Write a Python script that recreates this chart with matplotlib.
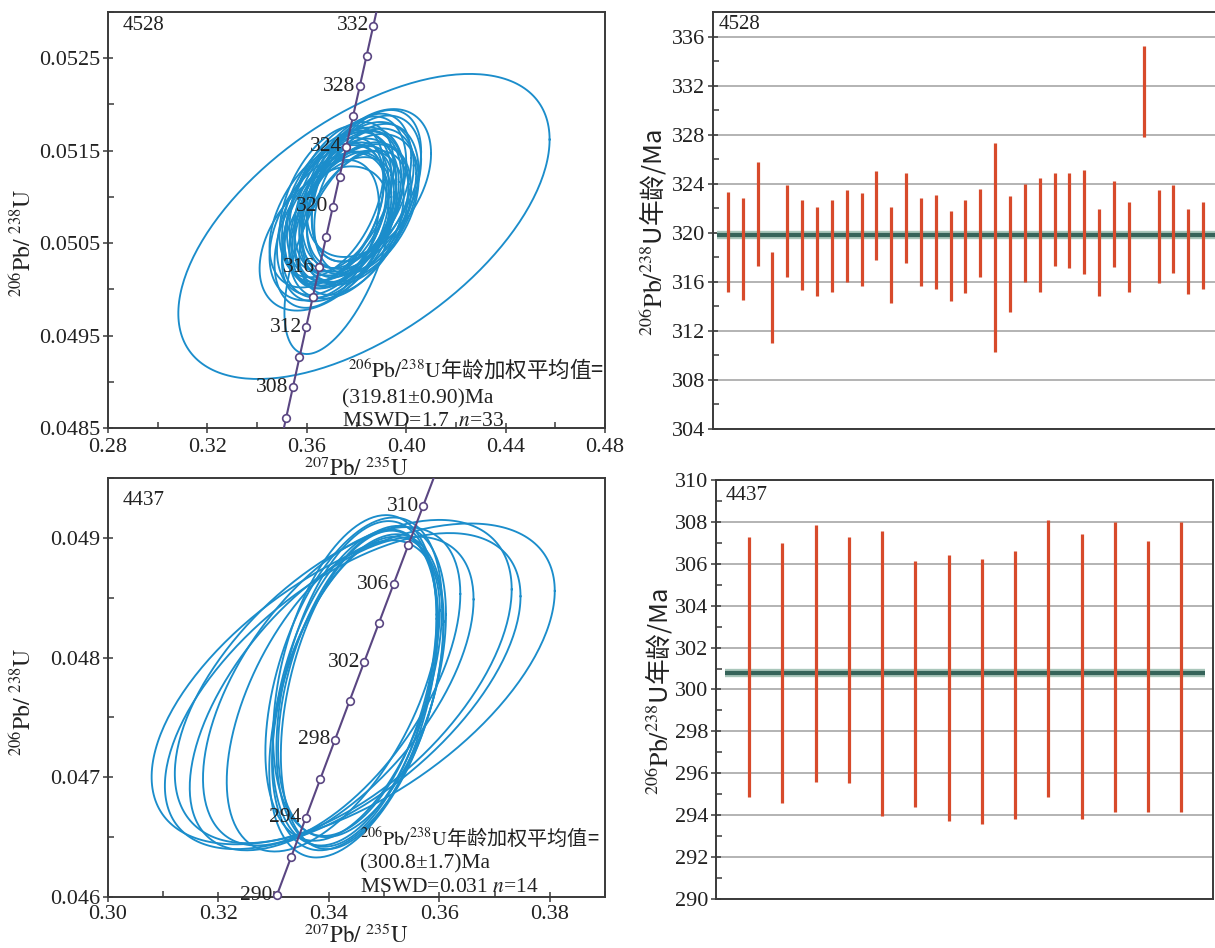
import numpy as np
import matplotlib
matplotlib.use("Agg")
import matplotlib.pyplot as plt
from matplotlib.ticker import FixedLocator, FormatStrFormatter

plt.rcParams['mathtext.fontset'] = 'stix'
plt.rcParams['font.family'] = ['Liberation Serif', 'Noto Sans CJK SC']
SERIF = ['Liberation Serif', 'Noto Sans CJK SC']
CJK = ['Noto Sans CJK SC', 'DejaVu Sans']

# ---------------- data ----------------
L238 = 1.55125e-4   # per Ma
L235 = 9.8485e-4    # per Ma

# sample 4528 concordia
s1_curve_range = [304.0, 334.0]
s1_marker_ages = [306, 308, 310, 312, 314, 316, 318, 320, 322, 324, 326, 328, 330, 332]
s1_label_ages = [308, 312, 316, 320, 324, 328, 332]
s1_cx = [0.383, 0.373, 0.367, 0.385, 0.384, 0.368, 0.372, 0.380, 0.376, 0.374, 0.378, 0.370,
         0.382, 0.373, 0.379, 0.371, 0.377, 0.383, 0.369, 0.375, 0.381, 0.374, 0.378, 0.368,
         0.384, 0.372, 0.379, 0.376, 0.370, 0.382, 0.375, 0.380, 0.373]
s1_cy = [0.05068, 0.05040, 0.05055, 0.05115, 0.05112, 0.05060, 0.05070, 0.05100, 0.05085, 0.05090,
         0.05080, 0.05075, 0.05095, 0.05065, 0.05105, 0.05085, 0.05095, 0.05105, 0.05068, 0.05078,
         0.05088, 0.05100, 0.05092, 0.05080, 0.05098, 0.05090, 0.05072, 0.05070, 0.05095, 0.05110,
         0.05088, 0.05082, 0.05080]
s1_ex = [0.0747, 0.0220, 0.0260, 0.0250, 0.0220, 0.0210, 0.0220, 0.0230, 0.0210, 0.0220,
         0.0230, 0.0220, 0.0220, 0.0230, 0.0210, 0.0200, 0.0220, 0.0230, 0.0240, 0.0210,
         0.0240, 0.0210, 0.0200, 0.0230, 0.0210, 0.0220, 0.0220, 0.0230, 0.0210, 0.0200,
         0.0240, 0.0220, 0.0200]
s1_ey = [0.00165, 0.00110, 0.00078, 0.00080, 0.00082, 0.00080, 0.00079, 0.00081, 0.00078, 0.00080,
         0.00077, 0.00081, 0.00079, 0.00078, 0.00082, 0.00079, 0.00080, 0.00083, 0.00080, 0.00077,
         0.00080, 0.00081, 0.00079, 0.00078, 0.00081, 0.00082, 0.00078, 0.00080, 0.00082, 0.00080,
         0.00084, 0.00077, 0.00079]
s1_rho = [0.57, 0.59, 0.42, 0.40, 0.45, 0.40, 0.38, 0.42, 0.40, 0.36,
          0.44, 0.40, 0.38, 0.45, 0.40, 0.42, 0.37, 0.43, 0.41, 0.46,
          0.39, 0.42, 0.38, 0.44, 0.37, 0.41, 0.45, 0.40, 0.43, 0.40,
          0.42, 0.36, 0.44]
s1_mean_lines = [r"$^{206}\mathrm{Pb}/^{238}\mathrm{U}$年龄加权平均值=",
                 "(319.81±0.90)Ma",
                 r"MSWD=1.7  $n$=33"]

# sample 4437 concordia
s2_curve_range = [289.0, 312.5]
s2_marker_ages = [290, 292, 294, 296, 298, 300, 302, 304, 306, 308, 310]
s2_label_ages = [290, 294, 298, 302, 306, 310]
s2_cx = [0.3444, 0.3425, 0.3426, 0.3405, 0.3405, 0.3408, 0.3445,
         0.3448, 0.3450, 0.3452, 0.3447, 0.3455, 0.3460, 0.3450]
s2_cy = [0.04778, 0.04772, 0.04780, 0.04770, 0.04776, 0.04768, 0.04782,
         0.04775, 0.04778, 0.04770, 0.04785, 0.04773, 0.04780, 0.04768]
s2_ex = [0.0365, 0.0322, 0.0305, 0.0257, 0.0233, 0.0193, 0.0160,
         0.0150, 0.0145, 0.0155, 0.0148, 0.0142, 0.0152, 0.0158]
s2_ey = [0.00134, 0.00132, 0.00135, 0.00131, 0.00133, 0.00130, 0.00135,
         0.00132, 0.00136, 0.00131, 0.00134, 0.00133, 0.00130, 0.00135]
s2_rho = [0.58, 0.60, 0.57, 0.60, 0.58, 0.55, 0.45,
          0.42, 0.40, 0.44, 0.38, 0.41, 0.43, 0.46]
s2_mean_lines = [r"$^{206}\mathrm{Pb}/^{238}\mathrm{U}$年龄加权平均值=",
                 "(300.8±1.7)Ma",
                 r"MSWD=0.031 $n$=14"]

# weighted mean plots
w1_hi = [323.3, 322.8, 325.75, 318.45, 323.9, 322.7, 322.1, 322.7, 323.5, 323.25, 325.0,
         322.1, 324.9, 322.8, 323.1, 321.8, 322.65, 323.6, 327.3, 323.0, 324.0, 324.45,
         324.9, 324.9, 325.1, 321.95, 324.2, 322.5, 335.25, 323.5, 323.9, 321.95, 322.5]
w1_lo = [315.2, 314.5, 317.3, 311.05, 316.4, 315.3, 314.85, 315.2, 316.0, 315.7, 317.75,
         314.25, 317.5, 315.7, 315.4, 314.4, 315.1, 316.4, 310.25, 313.5, 316.0, 315.2,
         317.3, 317.1, 316.6, 314.85, 317.2, 315.2, 327.8, 315.9, 316.7, 315.0, 315.4]
w1_mean = 319.81
w2_hi = [307.3, 307.0, 307.87, 307.3, 307.55, 306.13, 306.4, 306.23, 306.63, 308.1,
         307.4, 308.0, 307.1, 308.0]
w2_lo = [294.85, 294.6, 295.6, 295.55, 293.98, 294.38, 293.7, 293.6, 293.8, 294.85,
         293.8, 294.14, 294.14, 294.14]
w2_mean = 300.8

# ticks
s1_xticks = [0.28, 0.32, 0.36, 0.40, 0.44, 0.48]
s1_xminor = [0.30, 0.34, 0.38, 0.42, 0.46]
s1_yticks = [0.0485, 0.0495, 0.0505, 0.0515, 0.0525]
s1_yminor = [0.0490, 0.0500, 0.0510, 0.0520, 0.0530]
s2_xticks = [0.30, 0.32, 0.34, 0.36, 0.38]
s2_xminor = [0.31, 0.33, 0.35, 0.37, 0.39]
s2_yticks = [0.046, 0.047, 0.048, 0.049]
s2_yminor = [0.0465, 0.0475, 0.0485, 0.0495]
w1_yticks = [304, 308, 312, 316, 320, 324, 328, 332, 336]
w1_yminor = [306, 310, 314, 318, 322, 326, 330, 334]
w2_yticks = [290, 292, 294, 296, 298, 300, 302, 304, 306, 308, 310]
w2_yminor = [291, 293, 295, 297, 299, 301, 303, 305, 307, 309]

# ---------------- styles ----------------
ELL_C = '#1b8dcb'
CONC_C = '#5a4682'
BAR_C = '#d74a2b'
SPINE_C = '#3a3a3a'
GRID_C = '#b3b3b3'
TXT_C = '#222222'


def concordia(t):
    t = np.asarray(t, dtype=float)
    return np.exp(L235 * t) - 1, np.exp(L238 * t) - 1


def ellipse_pts(cx, cy, ex, ey, rho, n=240):
    th = np.linspace(0, 2 * np.pi, n)
    x = cx + ex * np.cos(th)
    y = cy + ey * (rho * np.cos(th) + np.sqrt(1 - rho ** 2) * np.sin(th))
    return x, y


def style_axes(ax):
    for s in ax.spines.values():
        s.set_color(SPINE_C)
        s.set_linewidth(1.4)
    ax.tick_params(which='major', direction='inout', length=7, width=1.1,
                   color=SPINE_C, labelsize=16, pad=2, labelcolor=TXT_C,
                   labelfontfamily='Liberation Serif')
    ax.tick_params(which='minor', direction='in', length=4, width=1.1, color=SPINE_C)


def concordia_panel(ax, rng, marks, labs, cx, cy, ex, ey, rho, xlim, ylim,
                    xt, xm, yt, ym, xfmt, yfmt, name, name_y, lines, txt_x, txt_y,
                    txt_size, ylab_y, xpad):
    for i in range(len(cx)):
        x, y = ellipse_pts(cx[i], cy[i], ex[i], ey[i], rho[i])
        ax.plot(x, y, color=ELL_C, lw=1.35, zorder=2)
    tt = np.linspace(rng[0], rng[1], 300)
    x, y = concordia(tt)
    ax.plot(x, y, color=CONC_C, lw=1.5, zorder=3)
    mx, my = concordia(marks)
    ax.plot(mx, my, 'o', ms=5.5, mfc='white', mec=CONC_C, mew=1.2, zorder=4, clip_on=False)
    lx, ly = concordia(labs)
    for a, px, py in zip(labs, lx, ly):
        ax.annotate(str(a), (px, py), xytext=(-3, 0), textcoords='offset points',
                    ha='right', va='center', fontsize=15.5, family=SERIF,
                    color=TXT_C, zorder=5)
    ax.set_xlim(*xlim)
    ax.set_ylim(*ylim)
    ax.xaxis.set_major_locator(FixedLocator(xt))
    ax.xaxis.set_minor_locator(FixedLocator(xm))
    ax.yaxis.set_major_locator(FixedLocator(yt))
    ax.yaxis.set_minor_locator(FixedLocator(ym))
    ax.xaxis.set_major_formatter(FormatStrFormatter(xfmt))
    ax.yaxis.set_major_formatter(FormatStrFormatter(yfmt))
    style_axes(ax)
    ax.tick_params(axis='x', which='major', pad=xpad)
    ax.set_xlabel(r"$^{207}\mathrm{Pb}/\ ^{235}\mathrm{U}$", fontsize=16.5, labelpad=0,
                  color=TXT_C)
    ax.set_ylabel(r"$^{206}\mathrm{Pb}/\ ^{238}\mathrm{U}$", fontsize=17, color=TXT_C)
    ax.yaxis.set_label_coords(-0.145, ylab_y)
    ax.text(0.03, name_y, name, transform=ax.transAxes, ha='left', va='top',
            fontsize=15, family=SERIF, color=TXT_C)
    fams = [CJK, SERIF, SERIF]
    for k, (s, fy) in enumerate(zip(lines, txt_y)):
        ax.text(txt_x[k], fy, s, transform=ax.transAxes, ha='left', va='baseline',
                fontsize=txt_size[k], family=fams[k], color=TXT_C, zorder=6)


def mean_panel(ax, lo, hi, mean, xlim, ylim, yt, ym, name, mean_span, name_pos):
    xs = np.arange(1, len(lo) + 1)
    ax.set_xlim(*xlim)
    ax.set_ylim(*ylim)
    ax.yaxis.set_major_locator(FixedLocator(yt))
    ax.yaxis.set_minor_locator(FixedLocator(ym))
    ax.set_xticks([])
    ax.grid(axis='y', which='major', color=GRID_C, lw=1.4, zorder=0)
    ax.set_axisbelow(True)
    ax.hlines(mean, mean_span[0], mean_span[1], color='#a9c6ba', lw=6, zorder=2)
    ax.hlines(mean, mean_span[0], mean_span[1], color='#36645a', lw=3, zorder=3)
    ax.vlines(xs, lo, hi, color=BAR_C, lw=2.3, zorder=4)
    style_axes(ax)
    ax.set_ylabel(r"$^{206}\mathrm{Pb}/^{238}$U年龄/Ma", fontsize=18.5, family=CJK,
                  color=TXT_C)
    ax.text(name_pos[0], name_pos[1], name, transform=ax.transAxes, ha='left', va='top',
            fontsize=15, family=SERIF, color=TXT_C, zorder=6)


fig = plt.figure(figsize=(12.15, 9.48), dpi=100)

ax1 = fig.add_axes([108 / 1215, 1 - 428 / 948, 497 / 1215, 416 / 948])
concordia_panel(ax1, s1_curve_range, s1_marker_ages, s1_label_ages,
                s1_cx, s1_cy, s1_ex, s1_ey, s1_rho, (0.28, 0.48), (0.0485, 0.0530),
                s1_xticks, s1_xminor, s1_yticks, s1_yminor, '%.2f', '%.4f', '4528', 0.99,
                s1_mean_lines, [0.483, 0.471, 0.471], [0.1226, 0.0601, 0.0048],
                [15.5, 15.5, 15.5], 0.445, 4)

ax2 = fig.add_axes([108 / 1215, 1 - 897 / 948, 497 / 1215, 419 / 948])
concordia_panel(ax2, s2_curve_range, s2_marker_ages, s2_label_ages,
                s2_cx, s2_cy, s2_ex, s2_ey, s2_rho, (0.30, 0.39), (0.046, 0.0495),
                s2_xticks, s2_xminor, s2_yticks, s2_yminor, '%.2f', '%.3f', '4437', 0.97,
                s2_mean_lines, [0.507, 0.507, 0.507], [0.124, 0.069, 0.012],
                [14.5, 15.5, 15.5], 0.465, 2.5)

ax3 = fig.add_axes([713 / 1215, 1 - 429 / 948, 502 / 1215, 417 / 948])
mean_panel(ax3, w1_lo, w1_hi, w1_mean, (0, 33.8), (304, 338), w1_yticks,
           w1_yminor, '4528', (0.25, 33.8), (0.012, 0.992))
ax3.spines['right'].set_visible(False)
ax3.yaxis.set_label_coords(-0.09, 0.47)

ax4 = fig.add_axes([716 / 1215, 1 - 899 / 948, 497 / 1215, 419 / 948])
mean_panel(ax4, w2_lo, w2_hi, w2_mean, (0, 14.95), (290, 310), w2_yticks,
           w2_yminor, '4437', (0.28, 14.7), (0.02, 0.985))
ax4.yaxis.set_label_coords(-0.085, 0.494)

fig.savefig('out.png', dpi=100)
